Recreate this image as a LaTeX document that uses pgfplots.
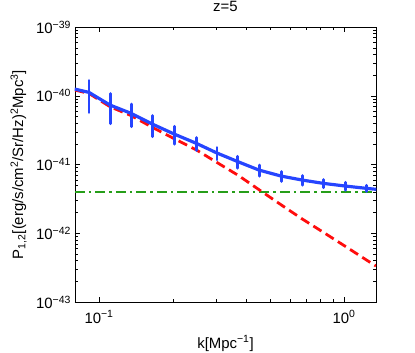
\documentclass[border=0pt]{standalone}
\usepackage{fontspec}
\setmainfont{Liberation Sans}
\usepackage{pgfplots}
\pgfplotsset{compat=1.18}

\definecolor{mblue}{rgb}{0.15,0.27,1.0}
\definecolor{mred}{rgb}{1.0,0.05,0.05}
\definecolor{mgreen}{rgb}{0.15,0.62,0.10}

\newcommand{\fs}{\fontsize{15}{17}\selectfont}

\begin{document}
\begin{tikzpicture}
\path[use as bounding box] (-75bp,-51bp) rectangle (340bp,302bp);
\begin{axis}[
  at={(0,0)}, anchor=south west,
  scale only axis, width=301bp, height=275bp,
  xmode=log, ymode=log,
  xmin=0.0798, xmax=1.35, ymin=1e-43, ymax=1e-39,
  axis line style={black, line width=0.6pt},
  tick align=inside, tick style={black, line width=0.4pt},
  major tick length=5bp, minor tick length=3bp,
  xtick={0.1,1}, xticklabels={10\textsuperscript{−1},10\textsuperscript{0}},
  ytick={1e-43,1e-42,1e-41,1e-40,1e-39},
  yticklabels={10\textsuperscript{−43},10\textsuperscript{−42},10\textsuperscript{−41},10\textsuperscript{−40},10\textsuperscript{−39}},
  ticklabel style={font=\fs},
  xticklabel style={anchor=base, yshift=-21bp},
  yticklabel style={anchor=east, xshift=-0.5bp},
  title={z=5},
  title style={font=\fs, at={(axis description cs:0.5,1)}, anchor=base, yshift=10bp},
  xlabel={k[Mpc\textsuperscript{−1}]},
  xlabel style={font=\fs, at={(axis description cs:0.5,0)}, anchor=base, yshift=-46bp},
  ylabel={P\textsubscript{1,2}[(erg/s/cm\textsuperscript{2}/Sr/Hz)\textsuperscript{2}Mpc\textsuperscript{3}]},
  ylabel style={font=\fs, at={(axis description cs:-0.226,0.5)}, anchor=north},
  clip=true,
]
% noise level
\addplot[mgreen, line width=2.7pt, dash pattern=on 10bp off 4bp on 2.5bp off 4bp]
  coordinates {(0.0798,4.0e-42) (1.35,4.0e-42)};
% signal
\addplot[mred, line width=2.8pt, dash pattern=on 9.5bp off 5bp]
  coordinates {
    (0.0798,1.21e-40) (0.0910,1.08e-40) (0.1109,6.93e-41) (0.1351,5.15e-41)
    (0.166,3.44e-41) (0.2024,2.38e-41) (0.249,1.64e-41) (0.303,1.07e-41)
    (0.369,7.0e-42) (0.450,4.3e-42) (0.553,2.6e-42) (0.674,1.62e-42)
    (0.821,1.04e-42) (1.009,6.5e-43) (1.23,4.12e-43) (1.35,3.34e-43)
  };
% total with errors
\addplot[mblue, line width=3.2pt, mark=none,
  error bars/.cd, y dir=both, y explicit, error mark=none,
  error bar style={mblue, line width=3pt, line cap=round, solid}]
  coordinates {
    (0.0798,1.25e-40) +- (0,0)
    (0.0910,1.12e-40) +- (0,5.5e-41)
    (0.1109,7.33e-41) +- (0,3.4e-41)
    (0.1351,5.55e-41) +- (0,2.0e-41)
    (0.166,3.84e-41) +- (0,1.3e-41)
    (0.2024,2.78e-41) +- (0,8.0e-42)
    (0.249,2.04e-41) +- (0,4.3e-42)
    (0.303,1.47e-41) +- (0,3.0e-42)
    (0.369,1.10e-41) +- (0,2.1e-42)
    (0.450,8.3e-42) +- (0,1.5e-42)
    (0.553,6.8e-42) +- (0,1.1e-42)
    (0.674,5.95e-42) +- (0,9.5e-43)
    (0.821,5.33e-42) +- (0,7.0e-43)
    (1.009,4.87e-42) +- (0,6.3e-43)
    (1.23,4.51e-42) +- (0,4.5e-43)
    (1.35,4.36e-42) +- (0,0)
  };
\end{axis}
\end{tikzpicture}
\end{document}
